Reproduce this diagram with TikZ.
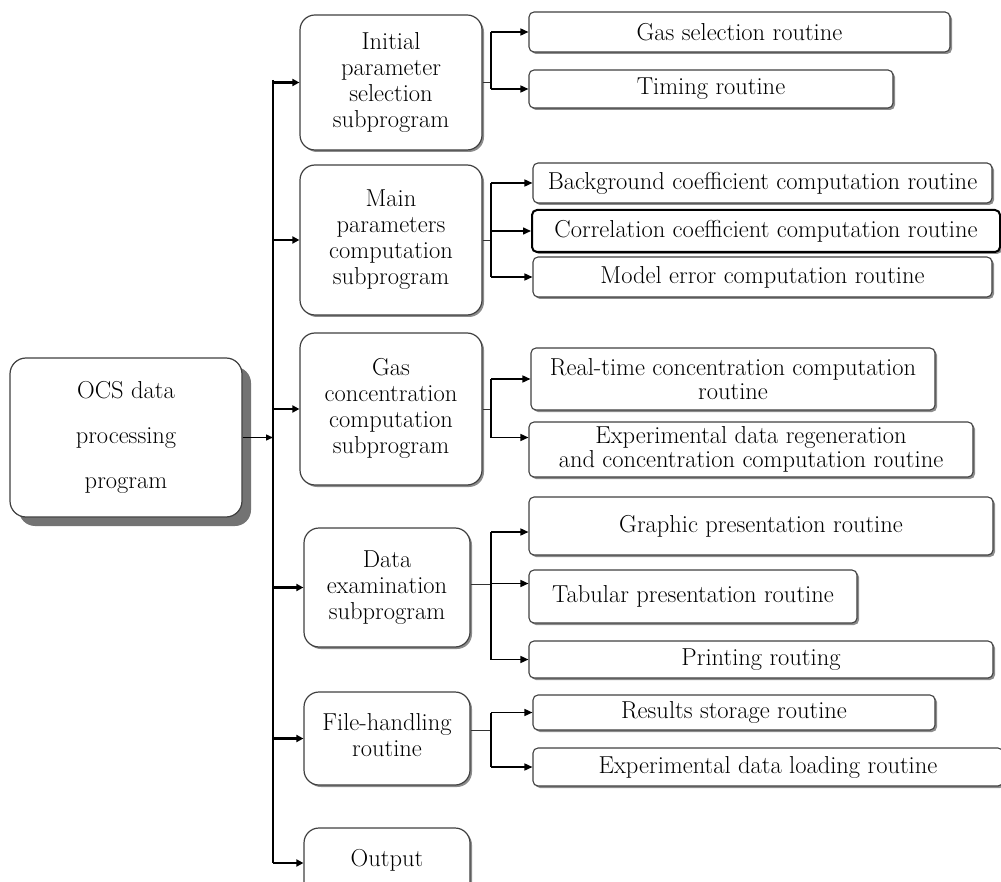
\documentclass[tikz,border=0pt]{standalone}
\usetikzlibrary{shadows,arrows.meta}
\newcommand{\liftup}[2]{\raisebox{#1}{\begin{tabular}{@{}c@{}}#2\end{tabular}}}
\begin{document}
\begin{tikzpicture}[x=1pt,y=-1pt,
  txt/.style={font=\fontsize{24.5}{26}\selectfont, align=center, inner sep=0pt, text=black},
  mainbox/.style={txt, draw=black!75, line width=1.2pt, rounded corners=16pt, fill=white,
    drop shadow={shadow xshift=9pt, shadow yshift=-9pt, fill=black!55, opacity=1}},
  subbox/.style={txt, draw=black!75, line width=1.2pt, rounded corners=15pt, fill=white,
    drop shadow={shadow xshift=2pt, shadow yshift=-2pt, fill=black!45, opacity=1}},
  routbox/.style={txt, font=\fontsize{24.5}{24}\selectfont, draw=black!75, line width=1.1pt, rounded corners=5pt, fill=white,
    drop shadow={shadow xshift=2pt, shadow yshift=-2pt, fill=black!45, opacity=1}},
  busline/.style={line width=2.2pt, black},
  busarr/.style={line width=2.6pt, black, -{Triangle[length=7pt,width=7pt]}},
  stem/.style={line width=0.8pt, black!80},
  brline/.style={line width=1.5pt, black},
  brarr/.style={line width=1.5pt, black, -{Triangle[length=8pt,width=7pt]}},
]
\useasboundingbox (0,0) rectangle (1001,882);

% main program
\node[mainbox, minimum width=232pt, minimum height=159pt, font=\fontsize{24.5}{45}\selectfont] (ocs) at (126,437.5) {OCS data\\processing\\program};

% subprograms
\node[subbox, minimum width=182pt, minimum height=135pt] (init) at (391,82.5) {Initial\\parameter\\selection\\subprogram};
\node[subbox, minimum width=182pt, minimum height=150pt] (mainp) at (391,240) {Main\\parameters\\computation\\subprogram};
\node[subbox, minimum width=182pt, minimum height=152pt] (gasc) at (391,409) {\liftup{7pt}{Gas\\concentration\\computation\\subprogram}};
\node[subbox, minimum width=166pt, minimum height=119pt] (data) at (387,587.5) {Data\\examination\\subprogram};
\node[subbox, minimum width=166pt, minimum height=93pt] (file) at (387,738.5) {\liftup{7pt}{File-handling\\routine}};
\node[subbox, minimum width=166pt, minimum height=70pt] (outp) at (387,863) {\liftup{10pt}{Output}};

% routines
\node[routbox, minimum width=421pt, minimum height=40pt] (gsel) at (739.5,32) {Gas selection routine};
\node[routbox, minimum width=364pt, minimum height=38pt] (timing) at (711,89) {Timing routine};
\node[routbox, minimum width=459pt, minimum height=40pt] (bg) at (762.5,183) {Background coefficient computation routine};
\node[routbox, minimum width=468pt, minimum height=42pt, draw=black, line width=2pt] (corr) at (766,231) {Correlation coefficient computation routine};
\node[routbox, minimum width=459pt, minimum height=40pt] (model) at (762.5,277) {Model error computation routine};
\node[routbox, minimum width=404pt, minimum height=62pt] (rt) at (733,379) {Real-time concentration computation\\routine};
\node[routbox, minimum width=444pt, minimum height=55pt] (exreg) at (751,449.5) {Experimental data regeneration\\and concentration computation routine};
\node[routbox, minimum width=464pt, minimum height=58pt] (graph) at (761,526) {Graphic presentation routine};
\node[routbox, minimum width=328pt, minimum height=53pt] (tab) at (693,596.5) {Tabular presentation routine};
\node[routbox, minimum width=464pt, minimum height=37pt] (print) at (761,659.5) {Printing routing};
\node[routbox, minimum width=402pt, minimum height=35pt] (store) at (734,712.5) {Results storage routine};
\node[routbox, minimum width=470pt, minimum height=38pt] (load) at (768,767) {Experimental data loading routine};

% bus
\coordinate (busx) at (273,0);
\coordinate (bustop) at (273,80);
\coordinate (busbot) at (273,863);
\draw[busline] (bustop) -- (busbot);
\draw[line width=1.4pt, -{Triangle[length=7pt,width=6pt]}] (ocs.east) -- (ocs.east -| busx);
\draw[busarr] (busx |- init.west) -- (init.west);
\draw[busarr] (busx |- mainp.west) -- (mainp.west);
\draw[busarr] (busx |- gasc.west) -- (gasc.west);
\draw[busarr] (busx |- data.west) -- (data.west);
\draw[busarr] (busx |- file.west) -- (file.west);
\draw[busarr] (busx |- outp.west) -- (outp.west);

% branches
\coordinate (jx) at (491,0);
% initial
\draw[stem] (init.east) -- (init.east -| jx);
\draw[brline] (jx |- gsel.west) -- (jx |- timing.west);
\draw[brarr] (jx |- gsel.west) -- (gsel.west);
\draw[brarr] (jx |- timing.west) -- (timing.west);
% main
\draw[stem] (mainp.east) -- (mainp.east -| jx);
\draw[brline] (jx |- bg.west) -- (jx |- model.west);
\draw[brarr] (jx |- bg.west) -- (bg.west);
\draw[brarr] (jx |- corr.west) -- (corr.west);
\draw[brarr] (jx |- model.west) -- (model.west);
% gas
\coordinate (exin) at ([yshift=12pt]exreg.west);
\draw[stem] (gasc.east) -- (gasc.east -| jx);
\draw[brline] (jx |- rt.west) -- (jx |- exin);
\draw[brarr] (jx |- rt.west) -- (rt.west);
\draw[brarr] (jx |- exin) -- (exin);
% data
\coordinate (grin) at ([yshift=-6pt]graph.west);
\coordinate (tbin) at ([yshift=13pt]tab.west);
\draw[stem] ([yshift=3pt]data.east) -- ([yshift=3pt]data.east -| jx);
\draw[brline] (jx |- grin) -- (jx |- print.west);
\draw[brarr] (jx |- grin) -- (grin);
\draw[brarr] (jx |- tbin) -- (tbin);
\draw[brarr] (jx |- print.west) -- (print.west);
% file
\coordinate (fstem) at ([yshift=8pt]file.east);
\draw[stem] (fstem) -- (fstem -| jx);
\draw[brline] (jx |- store.west) -- (jx |- load.west);
\draw[brarr] (jx |- store.west) -- (store.west);
\draw[brarr] (jx |- load.west) -- (load.west);
\end{tikzpicture}
\end{document}
